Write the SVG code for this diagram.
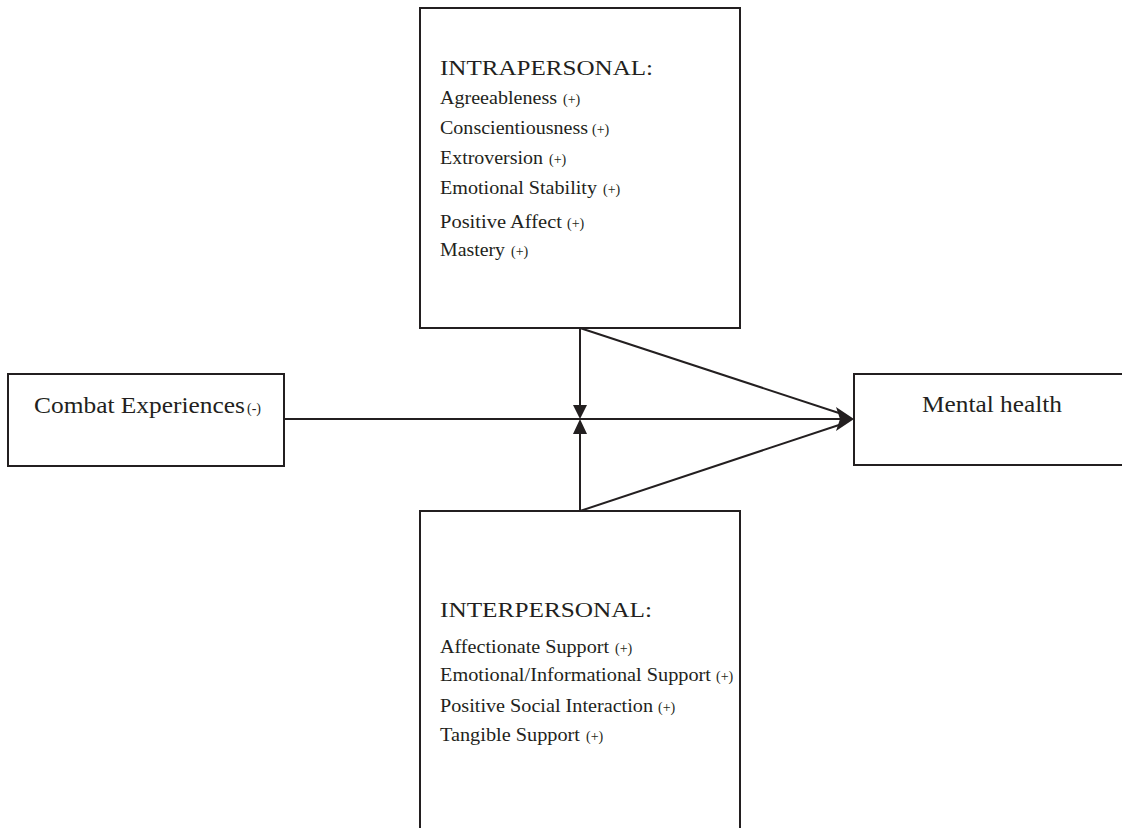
<svg xmlns="http://www.w3.org/2000/svg" width="1122" height="828" viewBox="0 0 1122 828">
<style>
  .box { fill: #ffffff; stroke: #231f20; stroke-width: 2; }
  .ln { stroke: #231f20; stroke-width: 2; fill: none; }
  .head { fill: #231f20; }
  text { font-family: "Liberation Serif", "Times New Roman", serif; fill: #231f20; }
  .h { font-size: 22px; }
  .big { font-size: 23px; }
  .it { font-size: 19px; }
  .sg { font-size: 14px; }
</style>
<rect width="1122" height="828" fill="#ffffff"/>
<g id="connectors">
  <line class="ln" x1="284" y1="419" x2="846" y2="419"/>
  <line class="ln" x1="580" y1="328" x2="845" y2="415"/>
  <line class="ln" x1="580" y1="511" x2="845" y2="423"/>
  <line class="ln" x1="580" y1="328" x2="580" y2="408"/>
  <line class="ln" x1="580" y1="511" x2="580" y2="430"/>
  <polygon class="head" points="573,405 587,405 580,419"/>
  <polygon class="head" points="573,434 587,434 580,419"/>
  <polygon class="head" points="854,419 836,407 840,419 836,431"/>
</g>
<g id="intrapersonal">
  <rect class="box" x="420" y="8" width="320" height="320"/>
  <text class="h" x="440" y="75" textLength="213" lengthAdjust="spacingAndGlyphs">INTRAPERSONAL:</text>
  <text class="it" x="440" y="104" textLength="117" lengthAdjust="spacingAndGlyphs">Agreeableness</text><text class="sg" x="563" y="104">(+)</text>
  <text class="it" x="440" y="134" textLength="148" lengthAdjust="spacingAndGlyphs">Conscientiousness</text><text class="sg" x="592" y="134">(+)</text>
  <text class="it" x="440" y="164" textLength="103" lengthAdjust="spacingAndGlyphs">Extroversion</text><text class="sg" x="549" y="164">(+)</text>
  <text class="it" x="440" y="194" textLength="157" lengthAdjust="spacingAndGlyphs">Emotional Stability</text><text class="sg" x="603" y="194">(+)</text>
  <text class="it" x="440" y="228" textLength="122" lengthAdjust="spacingAndGlyphs">Positive Affect</text><text class="sg" x="567" y="228">(+)</text>
  <text class="it" x="440" y="256" textLength="65" lengthAdjust="spacingAndGlyphs">Mastery</text><text class="sg" x="511" y="256">(+)</text>
</g>
<g id="combat">
  <rect class="box" x="8" y="374" width="276" height="92"/>
  <text class="big" x="34" y="413" textLength="211" lengthAdjust="spacingAndGlyphs">Combat Experiences</text><text class="sg" x="247" y="413">(-)</text>
</g>
<g id="mental-health">
  <rect class="box" x="854" y="374" width="290" height="91"/>
  <text class="big" x="922" y="412" textLength="140" lengthAdjust="spacingAndGlyphs">Mental health</text>
</g>
<g id="interpersonal">
  <rect class="box" x="420" y="511" width="320" height="340"/>
  <text class="h" x="440" y="617" textLength="212" lengthAdjust="spacingAndGlyphs">INTERPERSONAL:</text>
  <text class="it" x="440" y="653" textLength="169" lengthAdjust="spacingAndGlyphs">Affectionate Support</text><text class="sg" x="615" y="653">(+)</text>
  <text class="it" x="440" y="681" textLength="271" lengthAdjust="spacingAndGlyphs">Emotional/Informational Support</text><text class="sg" x="716" y="681">(+)</text>
  <text class="it" x="440" y="712" textLength="213" lengthAdjust="spacingAndGlyphs">Positive Social Interaction</text><text class="sg" x="658" y="712">(+)</text>
  <text class="it" x="440" y="741" textLength="140" lengthAdjust="spacingAndGlyphs">Tangible Support</text><text class="sg" x="586" y="741">(+)</text>
</g>
</svg>
